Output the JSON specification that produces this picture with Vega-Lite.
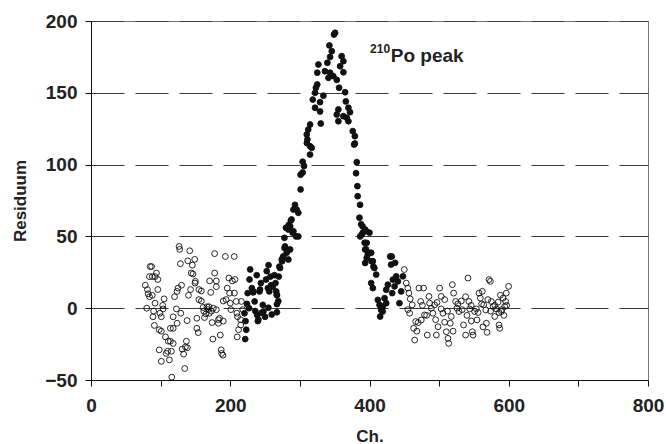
{
  "$schema": "https://vega.github.io/schema/vega-lite/v6.json",
  "width": 557,
  "height": 359,
  "autosize": {"type": "none"},
  "padding": {"left": 91, "top": 21, "right": 18, "bottom": 64},
  "background": "white",
  "config": {
    "view": {"stroke": "#777", "strokeWidth": 1},
    "font": "Liberation Sans",
    "axis": {
      "labelFont": "Liberation Sans", "labelFontWeight": "bold", "labelFontSize": 19, "labelColor": "#222",
      "titleFont": "Liberation Sans", "titleFontWeight": "bold", "titleFontSize": 17, "titleColor": "#222",
      "domainColor": "#111", "tickColor": "#111", "tickSize": 6, "domainWidth": 1, "tickWidth": 1
    }
  },
  "datasets": {
    "pts": [
      {"x":78,"y":16,"k":"o"},{"x":81,"y":13,"k":"o"},{"x":82,"y":10,"k":"o"},{"x":84,"y":8,"k":"o"},{"x":80,"y":0,"k":"o"},{"x":85,"y":29,"k":"o"},{"x":87,"y":29,"k":"o"},{"x":84,"y":22,"k":"o"},{"x":88,"y":22,"k":"o"},{"x":88,"y":9,"k":"o"},{"x":90,"y":-2,"k":"o"},{"x":92,"y":3.5,"k":"o"},{"x":94,"y":24.5,"k":"o"},{"x":92,"y":22,"k":"o"},{"x":96,"y":20,"k":"o"},{"x":96,"y":13,"k":"o"},{"x":89,"y":-6,"k":"o"},{"x":91,"y":-12,"k":"o"},{"x":99,"y":-3.5,"k":"o"},{"x":101,"y":-6,"k":"o"},{"x":103,"y":2,"k":"o"},{"x":105,"y":6.5,"k":"o"},{"x":103.6,"y":-0.5,"k":"o"},{"x":98,"y":-15,"k":"o"},{"x":101,"y":-16,"k":"o"},{"x":107,"y":-20,"k":"o"},{"x":98,"y":-29,"k":"o"},{"x":101,"y":-37,"k":"o"},{"x":108,"y":-31.5,"k":"o"},{"x":110,"y":-30,"k":"o"},{"x":112.6,"y":-36,"k":"o"},{"x":111,"y":-23,"k":"o"},{"x":115.5,"y":-30,"k":"o"},{"x":116,"y":-48,"k":"o"},{"x":114,"y":-23,"k":"o"},{"x":118,"y":-24.5,"k":"o"},{"x":118,"y":-6,"k":"o"},{"x":114,"y":-14,"k":"o"},{"x":118,"y":-14,"k":"o"},{"x":120,"y":8,"k":"o"},{"x":122.7,"y":-0.5,"k":"o"},{"x":123.6,"y":11.7,"k":"o"},{"x":125,"y":14,"k":"o"},{"x":126.5,"y":43,"k":"o"},{"x":127.4,"y":41,"k":"o"},{"x":128.4,"y":31,"k":"o"},{"x":130,"y":16,"k":"o"},{"x":123.6,"y":-10.5,"k":"o"},{"x":129,"y":-3.5,"k":"o"},{"x":131,"y":-28.5,"k":"o"},{"x":133,"y":-32,"k":"o"},{"x":134.6,"y":-42,"k":"o"},{"x":135.6,"y":-27,"k":"o"},{"x":137,"y":-23,"k":"o"},{"x":138.4,"y":-27.5,"k":"o"},{"x":138,"y":-8.6,"k":"o"},{"x":140,"y":9,"k":"o"},{"x":139,"y":33,"k":"o"},{"x":141.8,"y":40,"k":"o"},{"x":144,"y":24.5,"k":"o"},{"x":145.6,"y":30,"k":"o"},{"x":146.5,"y":23.8,"k":"o"},{"x":143,"y":13,"k":"o"},{"x":149,"y":34,"k":"o"},{"x":149.4,"y":17.5,"k":"o"},{"x":150,"y":18.7,"k":"o"},{"x":152,"y":-7,"k":"o"},{"x":152,"y":-14,"k":"o"},{"x":154,"y":-17,"k":"o"},{"x":155,"y":13,"k":"o"},{"x":158.5,"y":12,"k":"o"},{"x":155,"y":6,"k":"o"},{"x":158.5,"y":5,"k":"o"},{"x":161,"y":0.5,"k":"o"},{"x":162,"y":-2,"k":"o"},{"x":163,"y":-6.5,"k":"o"},{"x":165,"y":-4,"k":"o"},{"x":166.6,"y":1,"k":"o"},{"x":168,"y":-1,"k":"o"},{"x":169.5,"y":1,"k":"o"},{"x":170,"y":-3.5,"k":"o"},{"x":173,"y":-2,"k":"o"},{"x":174,"y":-10,"k":"o"},{"x":175.7,"y":0,"k":"o"},{"x":170.4,"y":19,"k":"o"},{"x":172,"y":11,"k":"o"},{"x":175,"y":-21.5,"k":"o"},{"x":177.6,"y":38,"k":"o"},{"x":177.6,"y":24.5,"k":"o"},{"x":180,"y":19,"k":"o"},{"x":180,"y":15,"k":"o"},{"x":180,"y":-1,"k":"o"},{"x":183,"y":-8,"k":"o"},{"x":183,"y":-10.5,"k":"o"},{"x":184.7,"y":-7,"k":"o"},{"x":185.7,"y":-18.7,"k":"o"},{"x":187,"y":-29,"k":"o"},{"x":187.6,"y":-31.5,"k":"o"},{"x":189.5,"y":-32.7,"k":"o"},{"x":190,"y":-9,"k":"o"},{"x":190,"y":5,"k":"o"},{"x":193,"y":36,"k":"o"},{"x":194,"y":6,"k":"o"},{"x":195.7,"y":14,"k":"o"},{"x":198,"y":21,"k":"o"},{"x":199,"y":10.5,"k":"o"},{"x":200,"y":3.5,"k":"o"},{"x":201,"y":-1,"k":"o"},{"x":203,"y":19,"k":"o"},{"x":205.7,"y":36,"k":"o"},{"x":206.7,"y":20,"k":"o"},{"x":206,"y":10.5,"k":"o"},{"x":208.6,"y":4.7,"k":"o"},{"x":209.5,"y":-3.5,"k":"o"},{"x":210.5,"y":-6,"k":"o"},{"x":210,"y":-20,"k":"o"},{"x":212,"y":-15,"k":"o"},{"x":214.8,"y":-8,"k":"o"},{"x":216,"y":4.7,"k":"o"},{"x":215,"y":-11.7,"k":"o"},{"x":218,"y":-1,"k":"o"},
      {"x":450,"y":26.9,"k":"o"},{"x":452.8,"y":17.5,"k":"o"},{"x":455,"y":14,"k":"o"},{"x":456.6,"y":10.5,"k":"o"},{"x":458.5,"y":6.5,"k":"o"},{"x":461.4,"y":2.3,"k":"o"},{"x":457.6,"y":-3.5,"k":"o"},{"x":463.4,"y":-14,"k":"o"},{"x":464.9,"y":-22.2,"k":"o"},{"x":466.3,"y":-9.3,"k":"o"},{"x":471,"y":14,"k":"o"},{"x":477.7,"y":14,"k":"o"},{"x":473.5,"y":4.7,"k":"o"},{"x":474.3,"y":-8.2,"k":"o"},{"x":479,"y":-4.7,"k":"o"},{"x":483,"y":-18.7,"k":"o"},{"x":485.4,"y":8.2,"k":"o"},{"x":486.3,"y":3.5,"k":"o"},{"x":488.7,"y":0,"k":"o"},{"x":491,"y":-3.5,"k":"o"},{"x":493.5,"y":2.3,"k":"o"},{"x":496,"y":-18.7,"k":"o"},{"x":498.4,"y":-12.9,"k":"o"},{"x":500.7,"y":14,"k":"o"},{"x":503,"y":8.2,"k":"o"},{"x":503,"y":-0.5,"k":"o"},{"x":505.5,"y":-3.5,"k":"o"},{"x":507.9,"y":-9.8,"k":"o"},{"x":510.3,"y":-16.4,"k":"o"},{"x":512.7,"y":-21,"k":"o"},{"x":513.7,"y":-24.5,"k":"o"},{"x":516,"y":-10.5,"k":"o"},{"x":517.5,"y":-5.8,"k":"o"},{"x":519,"y":16.4,"k":"o"},{"x":520.8,"y":10.5,"k":"o"},{"x":523.7,"y":4.7,"k":"o"},{"x":525.6,"y":0,"k":"o"},{"x":528.5,"y":-2.3,"k":"o"},{"x":531.9,"y":5,"k":"o"},{"x":535,"y":-11.7,"k":"o"},{"x":538,"y":-18.7,"k":"o"},{"x":541.4,"y":21,"k":"o"},{"x":542.8,"y":4.7,"k":"o"},{"x":543.9,"y":-0.5,"k":"o"},{"x":546.3,"y":-8.9,"k":"o"},{"x":547.7,"y":-16.4,"k":"o"},{"x":548.7,"y":-18.7,"k":"o"},{"x":551,"y":-2.3,"k":"o"},{"x":553.5,"y":-0.5,"k":"o"},{"x":554.4,"y":-8.2,"k":"o"},{"x":557.3,"y":10.5,"k":"o"},{"x":559.2,"y":7,"k":"o"},{"x":562,"y":11.7,"k":"o"},{"x":564,"y":2.3,"k":"o"},{"x":567,"y":-1.2,"k":"o"},{"x":567.9,"y":-10.5,"k":"o"},{"x":568.9,"y":-16.8,"k":"o"},{"x":571.7,"y":19.9,"k":"o"},{"x":573.6,"y":18.7,"k":"o"},{"x":575,"y":4.7,"k":"o"},{"x":577.6,"y":1.2,"k":"o"},{"x":579.9,"y":-5.8,"k":"o"},{"x":582.3,"y":-0.5,"k":"o"},{"x":584.7,"y":4.2,"k":"o"},{"x":586,"y":-11.7,"k":"o"},{"x":587,"y":-14,"k":"o"},{"x":589.4,"y":-2.3,"k":"o"},{"x":591.8,"y":7,"k":"o"},{"x":594.2,"y":1.2,"k":"o"},{"x":595.6,"y":4.7,"k":"o"},{"x":596.5,"y":10.5,"k":"o"},{"x":599.8,"y":15.2,"k":"o"},
      {"x":470,"y":-10,"k":"o"},{"x":476,"y":2,"k":"o"},{"x":482,"y":-5,"k":"o"},{"x":497,"y":4,"k":"o"},{"x":508,"y":6,"k":"o"},{"x":512,"y":-2,"k":"o"},{"x":527,"y":3,"k":"o"},{"x":533,"y":-1,"k":"o"},{"x":538,"y":8,"k":"o"},{"x":546,"y":2,"k":"o"},{"x":556,"y":-3,"k":"o"},{"x":561,"y":3,"k":"o"},{"x":570,"y":6,"k":"o"},{"x":574,"y":-2,"k":"o"},{"x":580,"y":2,"k":"o"},{"x":586,"y":-3,"k":"o"},{"x":590,"y":-1,"k":"o"},{"x":593,"y":-5,"k":"o"},{"x":597,"y":2,"k":"o"},{"x":588,"y":9,"k":"o"},{"x":563,"y":-13,"k":"o"},{"x":540,"y":-5,"k":"o"},{"x":520,"y":-16,"k":"o"},{"x":495,"y":-8,"k":"o"},{"x":468,"y":-16,"k":"o"},{"x":455,"y":-1,"k":"o"},
      {"x":221.5,"y":-21.5,"k":"f"},{"x":223,"y":-15,"k":"f"},{"x":222,"y":-9,"k":"f"},{"x":220.5,"y":-3.5,"k":"f"},{"x":224,"y":3,"k":"f"},{"x":227,"y":0,"k":"f"},{"x":225,"y":10.5,"k":"f"},{"x":228.6,"y":27,"k":"f"},{"x":227.7,"y":20,"k":"f"},{"x":231,"y":14,"k":"f"},{"x":233,"y":11,"k":"f"},{"x":235,"y":4.7,"k":"f"},{"x":236,"y":-2,"k":"f"},{"x":238.7,"y":-4.7,"k":"f"},{"x":239.6,"y":-9,"k":"f"},{"x":238,"y":23,"k":"f"},{"x":242,"y":11.7,"k":"f"},{"x":244,"y":17.5,"k":"f"},{"x":246.8,"y":2.3,"k":"f"},{"x":247.7,"y":-2.3,"k":"f"},{"x":250,"y":-6,"k":"f"},{"x":251.5,"y":20,"k":"f"},{"x":254,"y":14,"k":"f"},{"x":255,"y":30,"k":"f"},{"x":256,"y":11.7,"k":"f"},{"x":257.7,"y":22,"k":"f"},{"x":258.7,"y":16,"k":"f"},{"x":261,"y":15,"k":"f"},{"x":263.5,"y":23,"k":"f"},{"x":265,"y":17.5,"k":"f"},{"x":266,"y":11.7,"k":"f"},{"x":267,"y":9,"k":"f"},{"x":267,"y":2.8,"k":"f"},{"x":267,"y":-2.8,"k":"f"},{"x":269.7,"y":22,"k":"f"},{"x":271.6,"y":28,"k":"f"},{"x":274.5,"y":32.7,"k":"f"},{"x":276,"y":36,"k":"f"},{"x":278,"y":42,"k":"f"},{"x":277.8,"y":49,"k":"f"},{"x":280,"y":56,"k":"f"},{"x":284,"y":58,"k":"f"},{"x":287,"y":61,"k":"f"},{"x":294.5,"y":50,"k":"f"},{"x":289.6,"y":52.6,"k":"f"},
      {"x":245,"y":-3.2,"k":"f"},{"x":240.4,"y":-7.9,"k":"f"},{"x":254.8,"y":0.3,"k":"f"},{"x":259.6,"y":-4.4,"k":"f"},{"x":242.8,"y":13,"k":"f"},{"x":252.4,"y":25.8,"k":"f"},{"x":283.5,"y":33.9,"k":"f"},{"x":286,"y":40.9,"k":"f"},{"x":266.8,"y":9.5,"k":"f"},{"x":269,"y":4.9,"k":"f"},{"x":233,"y":11.8,"k":"f"},
      {"x":310,"y":115,"k":"f"},{"x":314.6,"y":107,"k":"f"},{"x":317,"y":111.7,"k":"f"},{"x":304,"y":102,"k":"f"},{"x":306,"y":99,"k":"f"},{"x":301,"y":93,"k":"f"},{"x":304,"y":94.5,"k":"f"},{"x":301,"y":82.7,"k":"f"},{"x":293,"y":72,"k":"f"},{"x":290.7,"y":68.7,"k":"f"},{"x":295.5,"y":68.7,"k":"f"},{"x":297.8,"y":66.4,"k":"f"},{"x":288,"y":61.8,"k":"f"},{"x":286,"y":57,"k":"f"},{"x":283.5,"y":54.8,"k":"f"},{"x":290.7,"y":53.6,"k":"f"},{"x":297.8,"y":50,"k":"f"},{"x":278.7,"y":43,"k":"f"},{"x":281,"y":38.6,"k":"f"},{"x":274,"y":34,"k":"f"},{"x":270.5,"y":29,"k":"f"},
      {"x":379,"y":114.7,"k":"f"},{"x":381.7,"y":101.7,"k":"f"},{"x":380.7,"y":94,"k":"f"},{"x":382.6,"y":85,"k":"f"},{"x":383,"y":78,"k":"f"},{"x":386.5,"y":72,"k":"f"},{"x":385.6,"y":63,"k":"f"},{"x":390,"y":57,"k":"f"},{"x":393.7,"y":54.8,"k":"f"},{"x":389,"y":51.3,"k":"f"},{"x":396,"y":45.5,"k":"f"},{"x":393.7,"y":40.9,"k":"f"},{"x":398.4,"y":38.6,"k":"f"},{"x":396,"y":35,"k":"f"},{"x":403,"y":32.7,"k":"f"},{"x":405.6,"y":29,"k":"f"},{"x":432,"y":36,"k":"f"},{"x":436.8,"y":31.6,"k":"f"},
      {"x":350.6,"y":191.8,"k":"f"},{"x":349,"y":190.6,"k":"f"},{"x":342.4,"y":183,"k":"f"},{"x":345.8,"y":179,"k":"f"},{"x":343.4,"y":175,"k":"f"},{"x":360,"y":175.5,"k":"f"},{"x":362.5,"y":172,"k":"f"},{"x":357.8,"y":168.5,"k":"f"},{"x":326.6,"y":169.7,"k":"f"},{"x":325,"y":164,"k":"f"},{"x":339.5,"y":170.9,"k":"f"},{"x":336,"y":165,"k":"f"},{"x":343.4,"y":164,"k":"f"},{"x":362.5,"y":164.3,"k":"f"},{"x":348,"y":161.6,"k":"f"},{"x":353,"y":159,"k":"f"},{"x":341,"y":160.4,"k":"f"},{"x":325,"y":155.8,"k":"f"},{"x":323,"y":153.5,"k":"f"},{"x":356.3,"y":153.5,"k":"f"},{"x":321.8,"y":150,"k":"f"},{"x":333.8,"y":148,"k":"f"},{"x":365,"y":150.4,"k":"f"},{"x":318.5,"y":145.3,"k":"f"},{"x":329,"y":143.5,"k":"f"},{"x":366,"y":144,"k":"f"},{"x":321.8,"y":139.6,"k":"f"},{"x":329,"y":137,"k":"f"},{"x":355.3,"y":138.4,"k":"f"},{"x":369.7,"y":139.6,"k":"f"},{"x":372,"y":136.5,"k":"f"},{"x":353,"y":134.9,"k":"f"},{"x":362.5,"y":133.7,"k":"f"},{"x":367.2,"y":132.6,"k":"f"},{"x":355.3,"y":130.2,"k":"f"},{"x":369.7,"y":130.2,"k":"f"},{"x":330,"y":128.6,"k":"f"},{"x":314.7,"y":127.9,"k":"f"},{"x":312,"y":124.4,"k":"f"},{"x":309.9,"y":121,"k":"f"},{"x":310.8,"y":117.5,"k":"f"},{"x":314.7,"y":112.8,"k":"f"},{"x":376,"y":123.3,"k":"f"},{"x":379,"y":119.8,"k":"f"},{"x":377.9,"y":114,"k":"f"},
      {"x":388,"y":58.4,"k":"f"},{"x":390.4,"y":52.6,"k":"f"},{"x":386.6,"y":50,"k":"f"},{"x":395,"y":53.7,"k":"f"},{"x":400,"y":52.6,"k":"f"},{"x":393,"y":45.6,"k":"f"},{"x":395,"y":41,"k":"f"},{"x":397.6,"y":37.4,"k":"f"},{"x":393.8,"y":31.5,"k":"f"},{"x":402.4,"y":38.6,"k":"f"},{"x":404.8,"y":32.7,"k":"f"},{"x":407,"y":28,"k":"f"},{"x":409.6,"y":23.4,"k":"f"},{"x":402.4,"y":17.5,"k":"f"},{"x":404.8,"y":14,"k":"f"},{"x":412,"y":5.8,"k":"f"},{"x":414.4,"y":2.3,"k":"f"},{"x":416.8,"y":-1.2,"k":"f"},{"x":415.3,"y":-5.8,"k":"f"},{"x":419,"y":-2.3,"k":"f"},{"x":424,"y":3.5,"k":"f"},{"x":421.6,"y":7,"k":"f"},{"x":424,"y":12.9,"k":"f"},{"x":426.4,"y":16.4,"k":"f"},{"x":429.7,"y":36,"k":"f"},{"x":431,"y":30.4,"k":"f"},{"x":433.6,"y":19.9,"k":"f"},{"x":436,"y":15.2,"k":"f"},{"x":432.6,"y":10.5,"k":"f"},{"x":438.4,"y":22.2,"k":"f"},{"x":440.8,"y":18.7,"k":"f"},{"x":443,"y":3.5,"k":"f"},{"x":445.5,"y":11.7,"k":"f"},{"x":448,"y":22.2,"k":"f"},{"x":419,"y":1.2,"k":"f"}
    ],
    "sup": [{"x":429.6,"y":178,"t":"210"}],
    "main": [{"x":430.5,"y":171.3,"t":"Po peak"}]
  },
  "layer": [
    {
      "data": {"name": "pts"},
      "mark": {"type": "point", "size": 34, "strokeWidth": 0.9, "opacity": 1},
      "encoding": {
        "x": {
          "field": "x", "type": "quantitative",
          "scale": {"domain": [0, 800], "nice": false, "zero": false},
          "axis": {
            "title": "Ch.", "values": [0,100,200,300,400,500,600,700,800],
            "labelExpr": "datum.value % 200 == 0 ? datum.label : ''",
            "grid": false, "labelPadding": 10, "titlePadding": 13, "labelFlush": false
          }
        },
        "y": {
          "field": "y", "type": "quantitative",
          "scale": {"domain": [-50, 200], "nice": false, "zero": false},
          "axis": {
            "title": "Residuum", "values": [-50,-25,0,25,50,75,100,125,150,175,200],
            "labelExpr": "datum.value % 50 == 0 ? datum.label : ''",
            "grid": true, "gridColor": "#3a3a3a", "gridDash": [33, 11], "gridWidth": 1,
            "gridOpacity": {"condition": {"test": "datum.value % 50 != 0 || datum.value == -50", "value": 0}, "value": 1},
            "labelPadding": 8, "titlePadding": 15, "labelFlush": false
          }
        },
        "fill": {"field": "k", "type": "nominal", "scale": {"domain": ["o", "f"], "range": ["transparent", "#111"]}, "legend": null},
        "stroke": {"value": "#111"}
      }
    },
    {
      "data": {"name": "sup"},
      "mark": {"type": "text", "font": "Liberation Sans", "fontWeight": "bold", "color": "#222", "baseline": "alphabetic", "align": "right", "fontSize": 12},
      "encoding": {
        "x": {"field": "x", "type": "quantitative"},
        "y": {"field": "y", "type": "quantitative"},
        "text": {"field": "t"}
      }
    },
    {
      "data": {"name": "main"},
      "mark": {"type": "text", "font": "Liberation Sans", "fontWeight": "bold", "color": "#222", "baseline": "alphabetic", "align": "left", "fontSize": 19},
      "encoding": {
        "x": {"field": "x", "type": "quantitative"},
        "y": {"field": "y", "type": "quantitative"},
        "text": {"field": "t"}
      }
    }
  ]
}
